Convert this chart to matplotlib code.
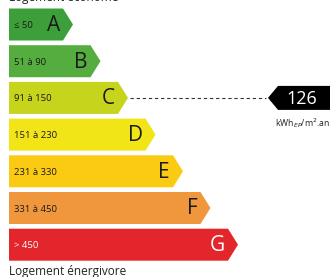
import matplotlib
matplotlib.use("Agg")
import matplotlib.pyplot as plt
from matplotlib.patches import Polygon

# DPE classes
letters = ["A", "B", "C", "D", "E", "F", "G"]
ranges = ["≤ 50", "51 à 90", "91 à 150", "151 à 230", "231 à 330", "331 à 450", "> 450"]
colors = ["#3c9f3a", "#55ad3f", "#c6d41c", "#f1e417", "#fbcb14", "#f0973d", "#e2262b"]
value = 126
value_class = "C"
unit = "kWh$_{EP}$/m$^2$.an"

plt.rcParams['font.family'] = ['Open Sans', 'DejaVu Sans']

fig = plt.figure(figsize=(3.3, 2.77), dpi=100)
ax = fig.add_axes([0, 0, 1, 1])
ax.set_xlim(0, 330)
ax.set_ylim(277, 0)
ax.axis("off")

left = 9
top0 = 8.5
pitch = 36.7
h = 32
tip = 10
first_len = 64
step = 27.5

for i, (l, r, c) in enumerate(zip(letters, ranges, colors)):
    y0 = top0 + i * pitch
    y1 = y0 + h
    body = left + first_len + i * step - tip
    pts = [(left, y0), (body, y0), (body + tip, (y0 + y1) / 2), (body, y1), (left, y1)]
    ax.add_patch(Polygon(pts, closed=True, facecolor=c, edgecolor="none"))
    tc = "white" if l == "G" else "#1a1a1a"
    ax.text(left + 5, (y0 + y1) / 2 + 1, r, fontsize=6.8, color=tc, va="center", ha="left")
    ax.text(body - 3, (y0 + y1) / 2 + 1, l, fontsize=15, color=tc, va="center", ha="right")
    if l == value_class:
        ymid = (y0 + y1) / 2
        ax.plot([body + tip + 2, 266], [ymid, ymid], color="#333333", lw=0.8, ls=(0, (3, 2.5)))
        mk = [(268, ymid), (278, ymid - 12), (330, ymid - 12), (330, ymid + 12), (278, ymid + 12)]
        ax.add_patch(Polygon(mk, closed=True, facecolor="black", edgecolor="none"))
        ax.text(302, ymid + 1, str(value), fontsize=13, color="white", va="center", ha="center")
        ax.text(330, ymid + 25, unit, fontsize=6.3, color="#222222", va="center", ha="right")

ax.text(9, -2, "Logement économe", fontsize=8.5, color="#222222", va="center", ha="left")
ax.text(9, 271, "Logement énergivore", fontsize=8.5, color="#222222", va="center", ha="left")

fig.savefig("out.png", dpi=100, facecolor="white")
